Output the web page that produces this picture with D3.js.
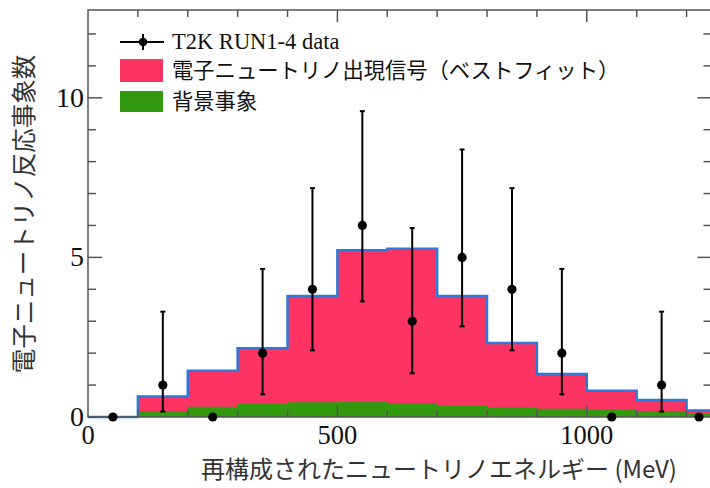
<!DOCTYPE html>
<html><head><meta charset="utf-8">
<script src="https://cdn.jsdelivr.net/npm/d3@7/dist/d3.min.js"></script>
<style>body{margin:0;background:#fff}svg{display:block}</style>
</head><body>
<svg id="c" width="710" height="488"></svg>
<script>
const binEdges = [0,100,200,300,400,500,600,700,800,900,1000,1100,1200,1250];
const totalFit = [0,0.64,1.45,2.15,3.79,5.22,5.27,3.79,2.32,1.35,0.82,0.53,0.2];
const background = [0,0.17,0.32,0.41,0.46,0.47,0.43,0.36,0.3,0.26,0.22,0.19,0.12];
const dataX = [50,150,250,350,450,550,650,750,850,950,1050,1150,1225];
const dataY = [0,1,0,2,4,6,3,5,4,2,0,1,0];
const errLow = [0,0.17,0,0.71,2.09,3.62,1.37,2.84,2.09,0.71,0,0.17,0];
const errHigh = [0,3.3,0,4.64,7.17,9.58,5.92,8.38,7.17,4.64,0,3.3,0];
const xTicks = [0,500,1000];
const yTicks = [0,5,10];
const legendLabels = ["T2K RUN1-4 data","電子ニュートリノ出現信号（ベストフィット）","背景事象"];
const xTitle = "再構成されたニュートリノエネルギー (MeV)";
const yTitle = "電子ニュートリノ反応事象数";

const svg = d3.select("#c");
const L=88, R=711.5, T=10, B=417;
const x = d3.scaleLinear().domain([0,1250]).range([L,R]);
const y = d3.scaleLinear().domain([0,12.75]).range([B,T]);

const bins = totalFit.map((v,i)=>({x0:binEdges[i],x1:binEdges[i+1],t:v,b:background[i]}));
const steps = [];
bins.forEach(d=>{steps.push([d.x0,d.t]);steps.push([d.x1,d.t]);});
const stepsB = [];
bins.forEach(d=>{stepsB.push([d.x0,d.b]);stepsB.push([d.x1,d.b]);});

const area = () => d3.area().x(d=>x(d[0])).y0(y(0)).y1(d=>y(d[1]));

svg.append("path").datum(steps).attr("d",area()).attr("fill","#fc3363");
svg.append("path").datum(stepsB).attr("d",area()).attr("fill","#33990f");
svg.append("path").datum(steps).attr("d",d3.line().x(d=>x(d[0])).y(d=>y(d[1])))
  .attr("fill","none").attr("stroke","#2f78d6").attr("stroke-width",2.5);

// frame & ticks
const g = svg.append("g").attr("stroke","#555").attr("stroke-width",1.5);
g.append("rect").attr("x",L).attr("y",T).attr("width",R-L).attr("height",B-T).attr("fill","none");
d3.range(100,1250,100).forEach(v=>{
  const len = v%500===0?12:7;
  g.append("line").attr("x1",x(v)).attr("x2",x(v)).attr("y1",B).attr("y2",B-len);
  g.append("line").attr("x1",x(v)).attr("x2",x(v)).attr("y1",T).attr("y2",T+len);
});
d3.range(1,13,1).forEach(v=>{
  const len = v%5===0?14:8;
  g.append("line").attr("y1",y(v)).attr("y2",y(v)).attr("x1",L).attr("x2",L+len);
  g.append("line").attr("y1",y(v)).attr("y2",y(v)).attr("x1",R).attr("x2",R-len);
});

// data
const dg = svg.append("g");
dataX.forEach((xv,i)=>{
  if(errHigh[i]>0){
    dg.append("line").attr("x1",x(xv)).attr("x2",x(xv)).attr("y1",y(errLow[i])).attr("y2",y(errHigh[i]))
      .attr("stroke","#000").attr("stroke-width",2);
    [errLow[i],errHigh[i]].forEach(e=>dg.append("line").attr("x1",x(xv)-2.5).attr("x2",x(xv)+2.5)
      .attr("y1",y(e)).attr("y2",y(e)).attr("stroke","#000").attr("stroke-width",2));
  }
  dg.append("circle").attr("cx",x(xv)).attr("cy",y(dataY[i])).attr("r",4.6).attr("fill","#000");
});

// tick labels
const serif = "'Liberation Serif','Times New Roman',serif";
xTicks.forEach(v=>svg.append("text").attr("x",x(v)).attr("y",444).attr("text-anchor","middle")
  .attr("font-family",serif).attr("font-size",26.5).attr("fill","#111").text(v));
yTicks.forEach(v=>svg.append("text").attr("x",84).attr("y",y(v)+9).attr("text-anchor","end")
  .attr("font-family",serif).attr("font-size",28).attr("fill","#111").text(v));

const jp = "'Noto Sans CJK JP','Noto Sans',sans-serif";
svg.append("text").attr("x",439).attr("y",478).attr("text-anchor","middle")
  .attr("font-family",jp).attr("font-size",24).attr("fill","#333").text(xTitle);
svg.append("text").attr("transform","translate(33,214) rotate(-90)").attr("text-anchor","middle")
  .attr("font-family",jp).attr("font-size",24.5).attr("fill","#333").text(yTitle);

// legend
const lg = svg.append("g");
lg.append("line").attr("x1",120).attr("x2",164).attr("y1",42).attr("y2",42).attr("stroke","#000").attr("stroke-width",2);
lg.append("line").attr("x1",143).attr("x2",143).attr("y1",34).attr("y2",50).attr("stroke","#000").attr("stroke-width",2);
lg.append("circle").attr("cx",143).attr("cy",42).attr("r",4.3).attr("fill","#000");
lg.append("rect").attr("x",120).attr("y",59).attr("width",43).attr("height",23).attr("fill","#fc3363");
lg.append("rect").attr("x",120).attr("y",91).attr("width",43).attr("height",21).attr("fill","#33990f");
lg.append("text").attr("x",172).attr("y",49).attr("font-family",serif).attr("font-size",22.5).attr("fill","#111").text(legendLabels[0]);
lg.append("text").attr("x",172).attr("y",78).attr("font-family",jp).attr("font-size",21.3).attr("fill","#111").text(legendLabels[1]);
lg.append("text").attr("x",172).attr("y",109).attr("font-family",jp).attr("font-size",21.3).attr("fill","#111").text(legendLabels[2]);
</script>
</body></html>
